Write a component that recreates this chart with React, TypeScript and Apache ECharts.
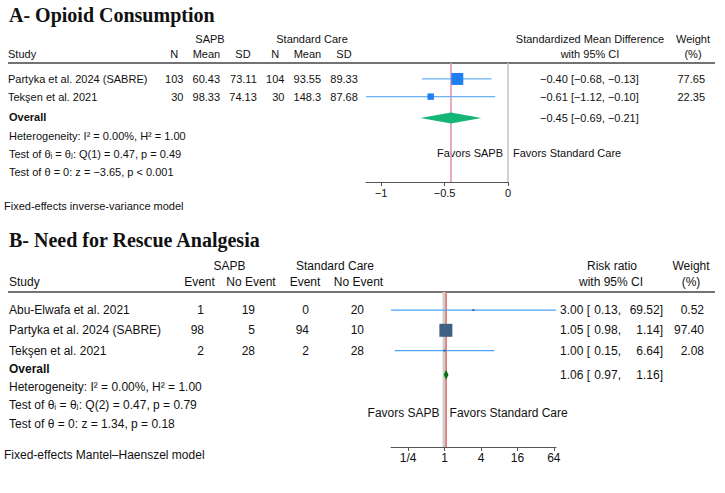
import React, { useEffect, useRef } from "react";
import * as echarts from "echarts";

// ---------- Panel A: Opioid Consumption ----------
const studiesA = ["Partyka et al. 2024 (SABRE)", "Tekşen et al. 2021"];
const nSapbA = [103, 30];
const meanSapbA = [60.43, 98.33];
const sdSapbA = [73.11, 74.13];
const nScA = [104, 30];
const meanScA = [93.55, 148.3];
const sdScA = [89.33, 87.68];
const smdA = [-0.4, -0.61];
const loA = [-0.68, -1.12];
const hiA = [-0.13, -0.1];
const weightA = [77.65, 22.35];
const overallA = [-0.45, -0.69, -0.21];
const statsA = [
  "Heterogeneity: I² = 0.00%, H² = 1.00",
  "Test of θᵢ = θⱼ: Q(1) = 0.47, p = 0.49",
  "Test of θ = 0: z = −3.65, p < 0.001",
];
const ticksA = [-1, -0.5, 0];

// ---------- Panel B: Need for Rescue Analgesia ----------
const studiesB = ["Abu-Elwafa et al. 2021", "Partyka et al. 2024 (SABRE)", "Tekşen et al. 2021"];
const evSapbB = [1, 98, 2];
const noEvSapbB = [19, 5, 28];
const evScB = [0, 94, 2];
const noEvScB = [20, 10, 28];
const rrB = [3.0, 1.05, 1.0];
const loB = [0.13, 0.98, 0.15];
const hiB = [69.52, 1.14, 6.64];
const weightB = [0.52, 97.4, 2.08];
const overallB = [1.06, 0.97, 1.16];
const statsB = [
  "Heterogeneity: I² = 0.00%, H² = 1.00",
  "Test of θᵢ = θⱼ: Q(2) = 0.47, p = 0.79",
  "Test of θ = 0: z = 1.34, p = 0.18",
];
const ticksB = [0.25, 1, 4, 16, 64];

// row positions (layout, in row units)
const rowsA = [1, 2];
const overallRowA = 3.2;
const rowsB = [1, 2, 3];
const overallRowB = 4.2;

const SANS = '"Liberation Sans", Arial, "DejaVu Sans", sans-serif';
const SERIF = '"Liberation Serif", "Times New Roman", serif';
const INK = "#111";

const minus = (v: number, d = 2) => (v < 0 ? "\u2212" : "") + Math.abs(v).toFixed(d);
const l2 = (v: number) => Math.log2(v);

function T(text: string, x: number, y: number, o: any = {}) {
  const size = o.size ?? 11;
  const align = o.align ?? "left";
  const font = `${o.bold ? "bold " : ""}${size}px ${o.serif ? SERIF : SANS}`;
  return {
    type: "text",
    x,
    y,
    silent: true,
    style: {
      text,
      fill: o.color ?? INK,
      font,
      align,
      textAlign: align,
      verticalAlign: "middle",
      textVerticalAlign: "middle",
    },
  };
}

function L(x1: number, y1: number, x2: number, y2: number, stroke: string, lineWidth: number) {
  return { type: "line", silent: true, shape: { x1, y1, x2, y2 }, style: { stroke, lineWidth } };
}

function ciSeries(idx: number, data: number[][], lineColor: string, sqColor: string, k: number, minSize: number) {
  return {
    type: "custom",
    xAxisIndex: idx,
    yAxisIndex: idx,
    data,
    encode: { x: [0, 1, 2], y: 3 },
    z: 5,
    renderItem: (_p: any, api: any) => {
      const row = api.value(3);
      const [xe, y] = api.coord([api.value(0), row]);
      const xl = api.coord([api.value(1), row])[0];
      const xh = api.coord([api.value(2), row])[0];
      const s = Math.max(minSize, k * Math.sqrt(api.value(4)));
      return {
        type: "group",
        children: [
          { type: "line", shape: { x1: xl, y1: y, x2: xh, y2: y }, style: { stroke: lineColor, lineWidth: 1.2 } },
          { type: "rect", shape: { x: xe - s / 2, y: y - s / 2, width: s, height: s }, style: { fill: sqColor } },
        ],
      };
    },
  };
}

function diamondSeries(idx: number, data: number[][], color: string, h: number) {
  return {
    type: "custom",
    xAxisIndex: idx,
    yAxisIndex: idx,
    data,
    encode: { x: [0, 1, 2], y: 3 },
    z: 5,
    renderItem: (_p: any, api: any) => {
      const row = api.value(3);
      const [xe, y] = api.coord([api.value(0), row]);
      const xl = api.coord([api.value(1), row])[0];
      const xh = api.coord([api.value(2), row])[0];
      return {
        type: "polygon",
        shape: { points: [[xl, y], [xe, y - h / 2], [xh, y], [xe, y + h / 2]] },
        style: { fill: color },
      };
    },
  };
}

function vlineSeries(idx: number, x: number, row: number, color: string, width: number, z: number) {
  return {
    type: "custom",
    xAxisIndex: idx,
    yAxisIndex: idx,
    data: [[x, row]],
    encode: { x: 0, y: 1 },
    z,
    renderItem: (p: any, api: any) => {
      const xp = api.coord([api.value(0), api.value(1)])[0];
      const cs = p.coordSys;
      return {
        type: "line",
        shape: { x1: xp, y1: cs.y, x2: xp, y2: cs.y + cs.height },
        style: { stroke: color, lineWidth: width },
      };
    },
  };
}

export default function App() {
  const ref = useRef<HTMLDivElement>(null);

  useEffect(() => {
    const chart = echarts.init(ref.current!, null, { renderer: "svg" });

    const dataA = smdA.map((e, i) => [e, loA[i], hiA[i], rowsA[i], weightA[i]]);
    const dataB = rrB.map((e, i) => [l2(e), l2(loB[i]), l2(hiB[i]), rowsB[i], weightB[i]]);

    const axisCommon = {
      axisLine: { show: true, lineStyle: { color: "#555", width: 1 } },
      splitLine: { show: false },
    };

    chart.setOption({
      animation: false,
      backgroundColor: "#fff",
      grid: [
        { left: 366, top: 63, width: 142, height: 119 },
        { left: 391, top: 292, width: 165, height: 155 },
      ],
      xAxis: [
        {
          gridIndex: 0,
          type: "value",
          min: -1.12,
          max: 0,
          ...axisCommon,
          axisTick: { show: true, length: 4, customValues: ticksA, lineStyle: { color: "#555" } },
          axisLabel: {
            customValues: ticksA,
            formatter: (v: number) => (v < 0 ? "\u2212" + Math.abs(v) : String(v)),
            fontSize: 11,
            fontFamily: SANS,
            color: INK,
            margin: 5,
          },
        },
        {
          gridIndex: 1,
          type: "value",
          min: l2(0.13),
          max: l2(69.52),
          ...axisCommon,
          axisTick: { show: true, length: 4, customValues: ticksB.map(l2), lineStyle: { color: "#555" } },
          axisLabel: {
            customValues: ticksB.map(l2),
            formatter: (v: number) => {
              const r = Math.round(v);
              return r < 0 ? "1/" + Math.pow(2, -r) : String(Math.pow(2, r));
            },
            fontSize: 12,
            fontFamily: SANS,
            color: INK,
            margin: 5,
          },
        },
      ],
      yAxis: [
        { gridIndex: 0, type: "value", inverse: true, min: 0.1, max: 6.82, show: false },
        { gridIndex: 1, type: "value", inverse: true, min: 0.11, max: 7.76, show: false },
      ],
      series: [
        vlineSeries(0, 0, 1, "#c8c8c8", 1.6, 1),
        vlineSeries(0, overallA[0], 1, "#e8a3b5", 1.8, 2),
        ciSeries(0, dataA, "#6ab2f5", "#1f7ff0", 1.36, 2),
        diamondSeries(0, [[overallA[0], overallA[1], overallA[2], overallRowA]], "#14b577", 11),
        vlineSeries(1, 0, 1, "#cdcdcd", 4, 1),
        vlineSeries(1, l2(overallB[0]), 1, "#ee3b36", 1, 2),
        ciSeries(1, dataB, "#4ea4f8", "#3d6182", 1.317, 2),
        diamondSeries(1, [[l2(overallB[0]), l2(overallB[1]), l2(overallB[2]), overallRowB]], "#0b6e12", 10),
      ],
    });

    const yA = (r: number) => chart.convertToPixel({ gridIndex: 0 }, [0, r])[1];
    const yB = (r: number) => chart.convertToPixel({ gridIndex: 1 }, [0, r])[1];
    const nullA = chart.convertToPixel({ gridIndex: 0 }, [0, 1])[0];
    const nullB = chart.convertToPixel({ gridIndex: 1 }, [0, 1])[0];
    const topA = yA(0.1);
    const topB = yB(0.11);

    const g: any[] = [];

    // ----- Panel A -----
    g.push(T("A- Opioid Consumption", 9, 15, { size: 20, bold: true, serif: true }));
    g.push(T("SAPB", 210, 39, { align: "center" }));
    g.push(T("Standard Care", 312, 39, { align: "center" }));
    g.push(T("Study", 8, 54));
    const colA = [183.4, 220.1, 256.8, 284.4, 321.1, 357.8];
    const hdrA = ["N", "Mean", "SD", "N", "Mean", "SD"];
    const hdrCA = [174.2, 206.4, 243, 275.2, 307.4, 344];
    hdrA.forEach((h, i) => g.push(T(h, hdrCA[i], 54, { align: "center" })));
    g.push(T("Standardized Mean Difference", 590, 39, { align: "center" }));
    g.push(T("with 95% CI", 590, 54, { align: "center" }));
    g.push(T("Weight", 693, 39, { align: "center" }));
    g.push(T("(%)", 693, 54, { align: "center" }));
    g.push(L(8, topA, 715, topA, "#444", 1.3));

    studiesA.forEach((s, i) => {
      const y = yA(rowsA[i]);
      g.push(T(s, 8, y));
      const vals = [nSapbA[i], meanSapbA[i], sdSapbA[i], nScA[i], meanScA[i], sdScA[i]];
      vals.forEach((v, j) => g.push(T(String(v), colA[j], y, { align: "right" })));
      g.push(T(`${minus(smdA[i])} [${minus(loA[i])}, ${minus(hiA[i])}]`, 540, y));
      g.push(T(weightA[i].toFixed(2), 705, y, { align: "right" }));
    });
    const yOA = yA(overallRowA);
    g.push(T("Overall", 9, yOA - 1, { bold: true }));
    g.push(T(`${minus(overallA[0])} [${minus(overallA[1])}, ${minus(overallA[2])}]`, 540, yOA));
    statsA.forEach((s, i) => g.push(T(s, 9, yOA + 18.5 + 18 * i)));
    g.push(T("Favors SAPB", nullA - 5, 153, { align: "right" }));
    g.push(T("Favors Standard Care", nullA + 5, 153));
    g.push(T("Fixed-effects inverse-variance model", 4, 206));

    // ----- Panel B -----
    g.push(T("B- Need for Rescue Analgesia", 9, 240, { size: 20, bold: true, serif: true }));
    g.push(T("SAPB", 229.5, 266, { size: 12, align: "center" }));
    g.push(T("Standard Care", 335, 266, { size: 12, align: "center" }));
    g.push(T("Study", 9, 282, { size: 12 }));
    const hdrB = ["Event", "No Event", "Event", "No Event"];
    const hdrCB = [199.5, 251, 305, 358.5];
    const colB = [204, 255, 309, 364];
    hdrB.forEach((h, i) => g.push(T(h, hdrCB[i], 282, { size: 12, align: "center" })));
    g.push(T("Risk ratio", 612, 266, { size: 12, align: "center" }));
    g.push(T("with 95% CI", 611, 282, { size: 12, align: "center" }));
    g.push(T("Weight", 691, 266, { size: 12, align: "center" }));
    g.push(T("(%)", 691, 282, { size: 12, align: "center" }));
    g.push(L(8, topB, 715, topB, "#444", 1.3));

    const ciB = (e: number, lo: number, hi: number, y: number) => {
      g.push(T(`${e.toFixed(2)} [`, 560, y, { size: 12 }));
      g.push(T(`${lo.toFixed(2)},`, 621, y, { size: 12, align: "right" }));
      g.push(T(`${hi.toFixed(2)}]`, 663, y, { size: 12, align: "right" }));
    };

    studiesB.forEach((s, i) => {
      const y = yB(rowsB[i]);
      g.push(T(s, 9, y, { size: 12 }));
      const vals = [evSapbB[i], noEvSapbB[i], evScB[i], noEvScB[i]];
      vals.forEach((v, j) => g.push(T(String(v), colB[j], y, { size: 12, align: "right" })));
      ciB(rrB[i], loB[i], hiB[i], y);
      g.push(T(weightB[i].toFixed(2), 704, y, { size: 12, align: "right" }));
    });
    const yOB = yB(overallRowB);
    g.push(T("Overall", 9, yOB - 6, { size: 12, bold: true }));
    ciB(overallB[0], overallB[1], overallB[2], yOB);
    statsB.forEach((s, i) => g.push(T(s, 9, yOB + 12 + 18.5 * i, { size: 12 })));
    g.push(T("Favors SAPB", nullB - 5, 413, { size: 12, align: "right" }));
    g.push(T("Favors Standard Care", nullB + 5, 413, { size: 12 }));
    g.push(T("Fixed-effects Mantel–Haenszel model", 4, 455, { size: 12 }));

    chart.setOption({ graphic: g });

    return () => chart.dispose();
  }, []);

  return (
    <div
      ref={ref}
      style={{ position: "fixed", left: 0, top: 0, width: 725, height: 493, background: "#fff" }}
    />
  );
}
